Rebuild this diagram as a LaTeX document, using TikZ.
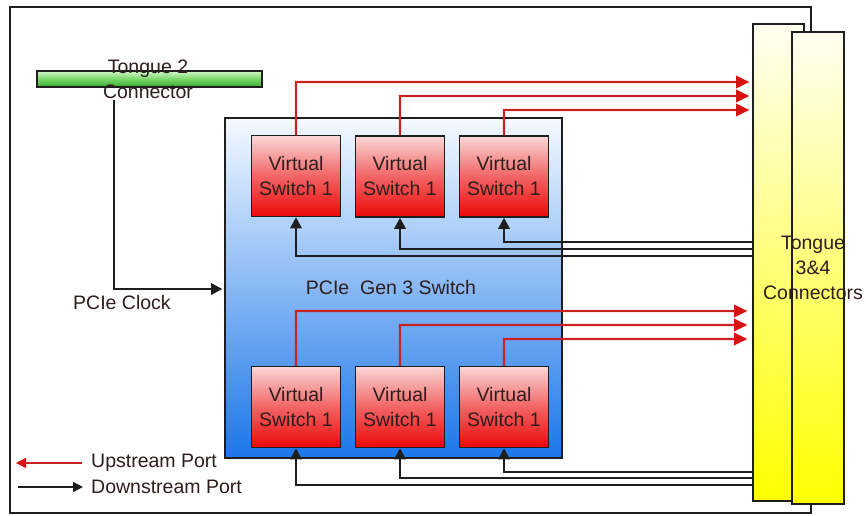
\documentclass[tikz,border=0pt]{standalone}
\usepackage{fontspec}
\setmainfont{Liberation Sans}
\usetikzlibrary{arrows.meta,calc}

\definecolor{edge}{RGB}{30,30,30}
\definecolor{textdark}{RGB}{45,30,30}
\definecolor{linkred}{RGB}{200,35,35}
\definecolor{tipred}{RGB}{215,20,20}
\definecolor{vstop}{RGB}{250,215,215}
\definecolor{vsmid}{RGB}{242,100,100}
\definecolor{vsbot}{RGB}{236,8,8}
\definecolor{swtop}{RGB}{245,250,255}
\definecolor{swbot}{RGB}{26,118,234}
\definecolor{yltop}{RGB}{255,255,242}
\definecolor{ylbot}{RGB}{255,255,0}
\definecolor{grtop}{RGB}{210,245,200}
\definecolor{grmid}{RGB}{120,215,105}
\definecolor{grbot}{RGB}{55,170,45}

\newcommand\lblfont{\fontsize{19.5}{25}\selectfont}

\tikzset{
  frameline/.style={draw=edge, line width=1.5pt},
  vswitch/.style={draw=edge, line width=1.6pt, minimum width=89pt, minimum height=81pt,
    inner sep=0pt, top color=vstop, bottom color=vsbot, middle color=vsmid,
    align=center, text=textdark, font=\lblfont},
  pcieswitch/.style={draw=edge, line width=1.6pt, minimum width=337pt, minimum height=340pt,
    inner sep=0pt, top color=swtop, bottom color=swbot},
  tongue/.style={draw=edge, line width=1.6pt, inner sep=0pt, top color=yltop, bottom color=ylbot},
  greenbar/.style={draw=edge, line width=1.4pt, minimum width=225pt, minimum height=16pt,
    inner sep=0pt, top color=grtop, bottom color=grbot, middle color=grmid},
  plainlabel/.style={inner sep=0pt, align=center, text=textdark, font=\lblfont},
  upport/.style={draw=linkred, line width=1.3pt,
    preaction={draw=red, opacity=0.10, line width=4pt, -},
    -{Triangle[length=13pt,width=12.5pt,fill=tipred,color=tipred]}, shorten >=3pt},
  downport/.style={draw=edge, line width=1.5pt,
    -{Triangle[length=11pt,width=11.5pt]}},
  legup/.style={draw=linkred, line width=1.3pt,
    -{Triangle[length=10pt,width=10pt,fill=tipred,color=tipred]}},
  legdown/.style={draw=edge, line width=1.5pt,
    -{Triangle[length=10pt,width=10pt]}},
}

\begin{document}
\begin{tikzpicture}[x=1pt,y=1pt]
  \useasboundingbox (0,0) rectangle (866,-515);
  \fill[white] (0,0) rectangle (866,-515);

  % board outline
  \draw[frameline] (10,-7) rectangle (811,-513);

  % tongue 2 edge connector
  \node[greenbar] (tg2) at (149.5,-79) {};
  \node[plainlabel] (tg2lbl) at (148,-79.5) {Tongue 2\\Connector};

  % PCIe switch with its virtual switches
  \node[pcieswitch] (sw) at (393.5,-288) {};
  \node[plainlabel] (swlbl) at (391,-288) {PCIe\ \ Gen 3 Switch};

  \node[vswitch] (vt1) at (296,-176) {Virtual\\Switch 1};
  \node[vswitch] (vt2) at (400,-176.5) {Virtual\\Switch 1};
  \node[vswitch] (vt3) at (504,-176.5) {Virtual\\Switch 1};

  \node[vswitch] (vb1) at (296,-407) {Virtual\\Switch 1};
  \node[vswitch] (vb2) at (400,-407) {Virtual\\Switch 1};
  \node[vswitch] (vb3) at (504,-407) {Virtual\\Switch 1};

  % tongue 3 & 4 connectors
  \node[tongue, minimum width=51pt, minimum height=477pt] (tc) at (778.5,-262.5) {};
  \node[tongue, minimum width=52pt, minimum height=472pt] (tc2) at (818,-268) {};
  \node[plainlabel] (tclbl) at (813,-268) {Tongue\\3\&4\\Connectors};

  % PCIe clock from tongue 2
  \coordinate (clk) at (114,-100);
  \draw[downport, shorten >=2pt] (clk) |- (sw.west |- 0,-289);
  \node[plainlabel] (clklbl) at (122,-303) {PCIe Clock};

  % upstream ports, upper row
  \draw[upport] (vt1.north) |- (tc.west |- 0,-82);
  \draw[upport] (vt2.north) |- (tc.west |- 0,-96);
  \draw[upport] (vt3.north) |- (tc.west |- 0,-110);

  % upstream ports, lower row
  \draw[upport, shorten >=5pt] (vb1.north) |- (tc.west |- 0,-311);
  \draw[upport, shorten >=5pt] (vb2.north) |- (tc.west |- 0,-325);
  \draw[upport, shorten >=5pt] (vb3.north) |- (tc.west |- 0,-339);

  % downstream ports, upper row
  \draw[downport] (tc.west |- 0,-242) -| (vt3.south);
  \draw[downport] (tc.west |- 0,-249) -| (vt2.south);
  \draw[downport] (tc.west |- 0,-256) -| (vt1.south);

  % downstream ports, lower row
  \draw[downport] (tc.west |- 0,-472) -| (vb3.south);
  \draw[downport] (tc.west |- 0,-478) -| (vb2.south);
  \draw[downport] (tc.west |- 0,-485) -| (vb1.south);

  % legend
  \node[plainlabel, anchor=west] (lup) at (91,-463) {Upstream Port};
  \node[plainlabel, anchor=west] (ldown) at (91,-487) {Downstream Port};
  \coordinate (upend) at (16,-463);
  \coordinate (downstart) at (18,-487);
  \draw[legup, shorten <=9pt] (lup.west) -- (upend);
  \draw[legdown, shorten >=8pt] (downstart) -- (ldown.west);
\end{tikzpicture}
\end{document}
